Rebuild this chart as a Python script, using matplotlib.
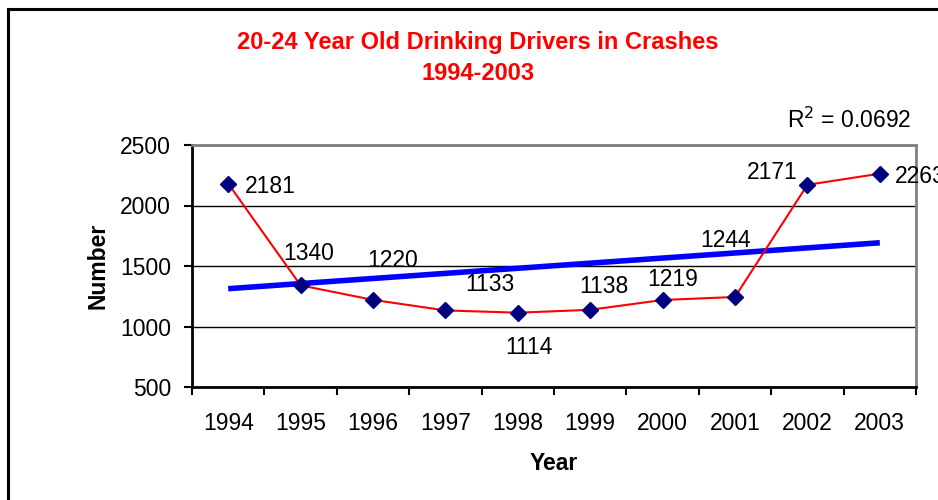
import matplotlib.pyplot as plt
import numpy as np
from matplotlib.patches import Rectangle

plt.rcParams['font.family'] = ['Liberation Sans', 'DejaVu Sans']

years = ['1994', '1995', '1996', '1997', '1998', '1999', '2000', '2001', '2002', '2003']
crashes = [2181, 1340, 1220, 1133, 1114, 1138, 1219, 1244, 2171, 2263]
r2_text = 'R$^2$ = 0.0692'
# label offsets (points) around each marker
label_offsets = [(30, -2), (6, 23), (14, 28), (32, 19), (8, -25), (10, 17), (7, 15), (-7, 41), (-25, 9), (29, -2)]

x = np.arange(len(years))
fig = plt.figure(figsize=(9.38, 5.0), dpi=100)
ax = fig.add_axes([192 / 938, 1 - 387 / 500, 724 / 938, 242 / 500])

# trend line
k, b = np.polyfit(x, crashes, 1)
ax.plot(x, k * x + b, color='#0000ff', lw=4, solid_capstyle='butt', zorder=3)

ax.plot(x, crashes, color='red', lw=1.5, zorder=4)
ax.plot(x, crashes, ls='none', marker='D', color='#000080', markersize=8.5, zorder=5)

for i, v in enumerate(crashes):
    ax.annotate(str(v), (x[i], v), xytext=label_offsets[i], textcoords='offset points',
                ha='center', va='center', fontsize=16.5, zorder=6, annotation_clip=False)

ax.set_xlim(-0.5, len(years) - 0.5)
ax.set_ylim(500, 2500)
ax.set_yticks([500, 1000, 1500, 2000, 2500])
ax.set_xticks(x)
ax.set_xticklabels(years)
ax.set_xticks(np.arange(-0.5, len(years)), minor=True)
ax.tick_params(axis='x', which='major', length=0, labelsize=16.5, pad=18)
ax.tick_params(axis='x', which='minor', length=6, width=1.5, direction='out')
ax.tick_params(axis='y', length=6, width=1.5, labelsize=16.5, pad=9)
ax.grid(axis='y', color='black', lw=1)
ax.set_axisbelow(True)

for side in ['top', 'right']:
    ax.spines[side].set_color('#808080')
    ax.spines[side].set_linewidth(2)
for side in ['left', 'bottom']:
    ax.spines[side].set_linewidth(2)

ax.set_ylabel('Number', fontsize=16.5, fontweight='bold', labelpad=8)
ax.set_xlabel('Year', fontsize=16.5, fontweight='bold', labelpad=12)

fig.text(478 / 938, 1 - 42 / 500, '20-24 Year Old Drinking Drivers in Crashes', color='red',
         fontsize=17, fontweight='bold', ha='center', va='center')
fig.text(478 / 938, 1 - 73 / 500, '1994-2003', color='red',
         fontsize=17, fontweight='bold', ha='center', va='center')
fig.text(849 / 938, 1 - 120 / 500, r2_text, fontsize=16.5, ha='center', va='center')

fig.patches.append(Rectangle((8 / 938, -0.1), 1.2, 1 - 9 / 500 + 0.1, transform=fig.transFigure,
                             fill=False, edgecolor='black', lw=2.2))

fig.savefig('out.png', dpi=100)
